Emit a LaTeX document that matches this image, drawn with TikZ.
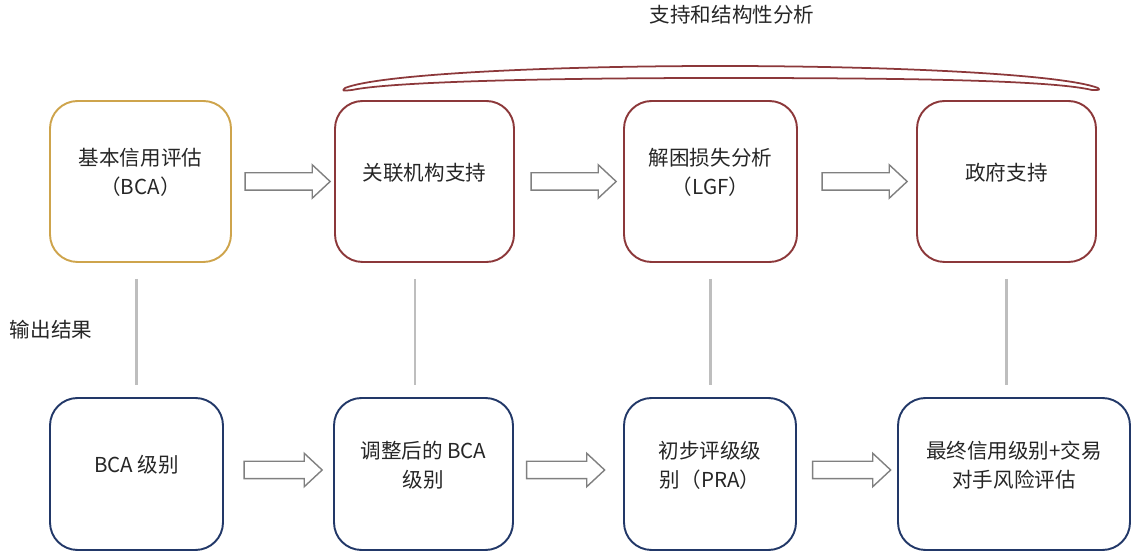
\documentclass[tikz,border=0pt]{standalone}
\usepackage{fontspec}
\setmainfont{Noto Sans CJK SC}
\usepackage{tikz}
\usetikzlibrary{positioning, shapes.arrows, calc}
\usepackage{xcolor}
\definecolor{RateGold}{RGB}{206, 164, 76}
\definecolor{RateRed}{RGB}{140, 56, 58}
\definecolor{RateBlue}{RGB}{34, 56, 104}
\definecolor{LinkGray}{RGB}{190, 190, 190}
\definecolor{ArrowGray}{RGB}{128, 128, 128}
\definecolor{TextGray}{RGB}{38, 38, 38}

\begin{document}
\begin{tikzpicture}[x=0.02cm, y=-0.02cm,
    every node/.style={text=TextGray, font=\fontsize{11.7}{16.5}\selectfont},
    card/.style={draw, line width=1.1pt, rounded corners=0.55cm, align=center},
    topcard/.style={card, minimum height=3.22cm},
    lowcard/.style={card, minimum height=3.04cm},
    txt/.style={label={[align=center, yshift=0.18cm]center:#1}},
    hollow/.style={single arrow, draw=ArrowGray, line width=0.8pt, fill=white,
        inner sep=0pt, inner ysep=0.16cm, single arrow head extend=0.16cm,
        single arrow tip angle=86, minimum height=1.7cm},
    link/.style={LinkGray, line width=1.7pt, shorten <=0.32cm, shorten >=0.24cm}]
    \useasboundingbox (0,0) rectangle (1133,553);
    % upper row
    \node[topcard, draw=RateGold, minimum width=3.62cm, txt={基本信用评估\\（BCA）}] (bca) at (140.5,181.5) {};
    \node[topcard, draw=RateRed, minimum width=3.58cm, txt={关联机构支持}] (affil) at (424.5,181.5) {};
    \node[topcard, draw=RateRed, minimum width=3.46cm, txt={解困损失分析\\（LGF）}] (lgf) at (710.5,181.5) {};
    \node[topcard, draw=RateRed, minimum width=3.58cm, txt={政府支持}] (gov) at (1006.5,181.5) {};
    % lower row
    \node[lowcard, draw=RateBlue, minimum width=3.46cm, txt={BCA 级别}] (bcarate) at (136.5,474) {};
    \node[lowcard, draw=RateBlue, minimum width=3.58cm, txt={调整后的 BCA\\级别}] (adjrate) at (423.5,474) {};
    \node[lowcard, draw=RateBlue, minimum width=3.44cm, txt={初步评级级\\别（PRA）}] (pra) at (710,474) {};
    \node[lowcard, draw=RateBlue, minimum width=4.64cm, txt={最终信用级别+交易\\对手风险评估}] (final) at (1014,474) {};
    % hollow arrows
    \path (bca.east) -- (affil.west) node[midway, hollow] (a1) {};
    \path (affil.east) -- (lgf.west) node[midway, hollow] (a2) {};
    \path (lgf.east) -- (gov.west) node[midway, hollow, xshift=0.06cm] (a3) {};
    \path (bcarate.east) -- (adjrate.west) node[midway, hollow, minimum height=1.56cm, yshift=0.08cm] (b1) {};
    \path (adjrate.east) -- (pra.west) node[midway, hollow, minimum height=1.56cm, yshift=0.08cm, xshift=-0.15cm] (b2) {};
    \path (pra.east) -- (final.west) node[midway, hollow, minimum height=1.56cm, yshift=0.08cm] (b3) {};
    % output links
    \draw[link] (bca.south -| bcarate) -- (bcarate.north);
    \draw[link] ([xshift=-0.19cm]affil.south) -- ([xshift=-0.19cm]affil.south |- adjrate.north);
    \draw[link] (lgf.south -| pra) -- (pra.north);
    \draw[link] (gov.south) -- (gov.south |- final.north);
    % brace over the support steps
    \draw[RateRed, line width=1pt, line join=round]
        (345,88) .. controls (380,74) and (550,66) .. (720,66)
        .. controls (890,66) and (1062,74) .. (1098,88)
        .. controls (1100,90) .. (1092,90)
        .. controls (1050,80) and (900,78) .. (720,78)
        .. controls (540,78) and (390,82) .. (352,90)
        .. controls (342,91) .. (345,88) -- cycle;
    \node (support) at (732,15) {支持和结构性分析};
    \node (output) at (51,330) {输出结果};
\end{tikzpicture}
\end{document}
